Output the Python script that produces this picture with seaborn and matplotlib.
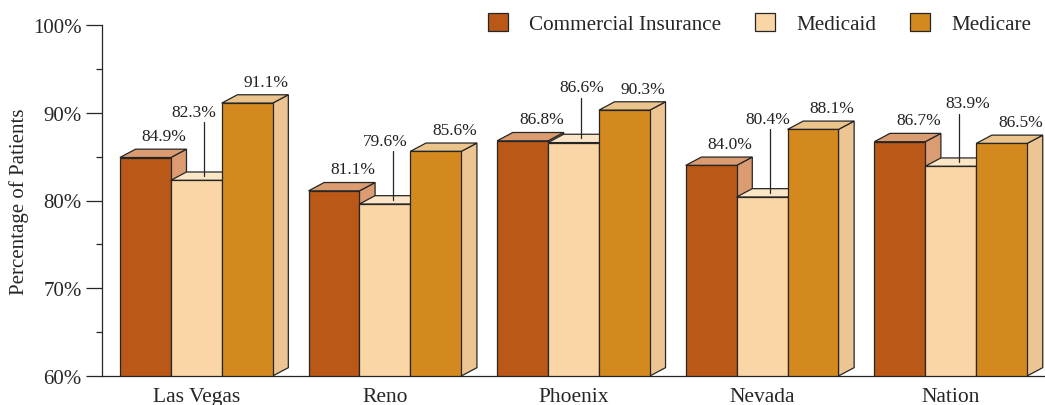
import matplotlib
matplotlib.use("Agg")
import matplotlib.pyplot as plt
import pandas as pd
import seaborn as sns
from matplotlib.patches import Polygon, Patch
from matplotlib.ticker import MultipleLocator, FuncFormatter

# Data
cities = ["Las Vegas", "Reno", "Phoenix", "Nevada", "Nation"]
payers = ["Commercial Insurance", "Medicaid", "Medicare"]
commercial = [84.9, 81.1, 86.8, 84.0, 86.7]
medicaid = [82.3, 79.6, 86.6, 80.4, 83.9]
medicare = [91.1, 85.6, 90.3, 88.1, 86.5]

# Colours: front face, and the lighter top/side faces
front_colors = ["#B95817", "#FAD6A6", "#D3891D"]
top_colors = ["#DA9C70", "#FCE6C8", "#EBC48C"]
side_colors = ["#DA9C70", "#FCE6C8", "#ECC592"]
edge = "#262626"

df = pd.DataFrame({
    "city": cities * 3,
    "payer": [p for p in payers for _ in cities],
    "pct": commercial + medicaid + medicare,
})

sns.set_style("white")
plt.rcParams["font.family"] = ["Liberation Serif", "DejaVu Serif"]

fig = plt.figure(figsize=(10.45, 4.06), dpi=100)
ax = fig.add_axes([102 / 1045, 29 / 406, 943 / 1045, 351 / 406])

sns.barplot(data=df, x="city", y="pct", hue="payer", hue_order=payers,
            palette=front_colors, saturation=1, width=0.81, gap=0,
            edgecolor=edge, linewidth=0.9, legend=False, ax=ax)

ax.set_ylim(60, 100)
ax.set_xlim(-0.5, 4.5)

# pseudo 3D depth (data units)
dx = 0.083
dy = 0.95
base = 60

# medicaid labels sit higher, with a leader line down to the bar
medicaid_lift = [7.8, 7.2, 6.3, 8.9, 7.2]
medicaid_shift = [-0.055, -0.04, 0.0, -0.01, 0.05]

for i, cont in enumerate(ax.containers):
    for j, bar in enumerate(cont.patches):
        x0 = bar.get_x()
        w = bar.get_width()
        h = bar.get_height()
        x1 = x0 + w
        z = 10 + i * 3
        side = Polygon([(x1, base), (x1 + dx, base + dy), (x1 + dx, h + dy), (x1, h)],
                       closed=True, facecolor=side_colors[i], edgecolor=edge,
                       linewidth=0.9, zorder=z, clip_on=False)
        top = Polygon([(x0, h), (x1, h), (x1 + dx, h + dy), (x0 + dx, h + dy)],
                      closed=True, facecolor=top_colors[i], edgecolor=edge,
                      linewidth=0.9, zorder=z + 1, clip_on=False)
        ax.add_patch(side)
        ax.add_patch(top)
        bar.set_zorder(z + 2)

        cx = x0 + w / 2
        if i == 1:
            ly = h + medicaid_lift[j]
            lx = cx + dx / 2
            ax.plot([lx, lx], [h + dy / 2, ly - 1.2], color=edge, lw=0.9, zorder=30)
            ax.text(lx + medicaid_shift[j], ly, f"{h:.1f}%", ha="center", va="center",
                    fontsize=12.5, color="#222222", zorder=30)
        else:
            ax.text(cx + 0.1, h + 2.45, f"{h:.1f}%", ha="center", va="center",
                    fontsize=12.5, color="#222222", zorder=30)

# axes styling
for s in ["top", "right"]:
    ax.spines[s].set_visible(False)
for s in ["left", "bottom"]:
    ax.spines[s].set_color(edge)
    ax.spines[s].set_linewidth(0.9)
    ax.spines[s].set_zorder(40)

ax.yaxis.set_major_locator(MultipleLocator(10))
ax.yaxis.set_minor_locator(MultipleLocator(5))
ax.yaxis.set_major_formatter(FuncFormatter(lambda v, p: f"{v:.0f}%"))
ax.tick_params(axis="y", which="major", direction="out", length=11.5, width=0.9,
               color=edge, labelsize=15, pad=3, left=True)
ax.tick_params(axis="y", which="minor", direction="out", length=4.3, width=0.9,
               color=edge, left=True)
ax.tick_params(axis="x", length=0, labelsize=15.5, pad=8)
ax.set_xlabel("")
ax.set_ylabel("Percentage of Patients", fontsize=15, labelpad=3)

handles = [Patch(facecolor=c, edgecolor=edge, linewidth=0.9) for c in front_colors]
fig.legend(handles, payers, loc="upper right", bbox_to_anchor=(1031 / 1045, 1 - 14 / 406),
           ncol=3, frameon=False, fontsize=15.2, handlelength=0.95, handleheight=0.95,
           handletextpad=1.0, columnspacing=1.6, borderaxespad=0, borderpad=0)

fig.savefig("out.png", dpi=100)
